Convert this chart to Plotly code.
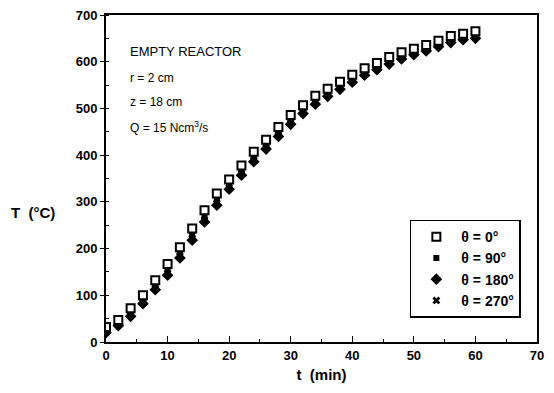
import plotly.graph_objects as go

t = [0, 2, 4, 6, 8, 10, 12, 14, 16, 18, 20, 22, 24, 26, 28, 30, 32, 34, 36, 38, 40,
     42, 44, 46, 48, 50, 52, 54, 56, 58, 60]
T0 = [32, 47, 72, 100, 132, 167, 203, 243, 282, 318, 348, 378, 407, 433, 460, 486, 507,
      527, 542, 557, 572, 586, 597, 610, 620, 628, 636, 645, 655, 660, 665]
T90 = [25, 40, 62, 90, 120, 153, 190, 228, 267, 303, 335, 365, 394, 421, 448, 474, 496,
       516, 532, 547, 562, 577, 589, 601, 611, 620, 628, 637, 646, 652, 656]
T180 = [20, 35, 55, 82, 112, 143, 180, 218, 257, 293, 327, 357, 386, 413, 440, 466, 489,
        509, 526, 541, 556, 571, 583, 595, 606, 615, 623, 632, 641, 647, 650]
T270 = [22, 37, 58, 85, 115, 147, 184, 222, 261, 297, 330, 360, 389, 416, 443, 469, 492,
        512, 529, 544, 559, 573, 585, 597, 608, 617, 625, 634, 643, 649, 653]
labels = ["\u03b8 = 0\u00b0", "\u03b8 = 90\u00b0", "\u03b8 = 180\u00b0", "\u03b8 = 270\u00b0"]

fig = go.Figure()
fig.add_trace(go.Scatter(x=t, y=T270, mode="markers", name=labels[3],
                         marker=dict(symbol="x", size=7, color="black")))
fig.add_trace(go.Scatter(x=t, y=T180, mode="markers", name=labels[2],
                         marker=dict(symbol="diamond", size=9, color="black")))
fig.add_trace(go.Scatter(x=t, y=T90, mode="markers", name=labels[1],
                         marker=dict(symbol="square", size=6, color="black")))
fig.add_trace(go.Scatter(x=t, y=T0, mode="markers", name=labels[0],
                         marker=dict(symbol="square", size=8, color="white",
                                     line=dict(color="black", width=2))))

font_main = "Arial, Liberation Sans, sans-serif"
fig.update_layout(
    width=554, height=393,
    margin=dict(l=106, r=17, t=8, b=51),
    paper_bgcolor="white", plot_bgcolor="white",
    font=dict(family=font_main, color="black", size=13),
    showlegend=True,
    legend=dict(x=0.705, y=0.374, xanchor="left", yanchor="top",
                bordercolor="black", borderwidth=1.5, bgcolor="white",
                traceorder="reversed", itemwidth=40,
                font=dict(size=14, family=font_main, weight="bold")),
    xaxis=dict(range=[0, 70], dtick=10, showline=True, linecolor="black", linewidth=2,
               mirror=True, ticks="inside", ticklen=6, tickcolor="black",
               showgrid=False, zeroline=False,
               tickfont=dict(size=13, weight="bold"),
               minor=dict(dtick=5, ticks="inside", ticklen=3, tickcolor="black"),
               title=dict(text="t  (min)", font=dict(size=15, weight="bold"), standoff=8)),
    yaxis=dict(range=[0, 700], dtick=100, showline=True, linecolor="black", linewidth=2,
               mirror=True, ticks="outside", ticklen=4, tickcolor="black",
               showgrid=False, zeroline=False,
               tickfont=dict(size=13, weight="bold"),
               minor=dict(dtick=50, ticks="inside", ticklen=3, tickcolor="black")),
)

fig.add_annotation(text="T  (\u00b0C)", xref="paper", yref="paper",
                   x=-0.225, y=(342 - 210) / 334, xanchor="left", yanchor="middle",
                   showarrow=False, font=dict(size=15, weight="bold"))

notes = ["EMPTY REACTOR", "r = 2 cm", "z = 18 cm", "Q = 15 Ncm<sup>3</sup>/s"]
ypix = [45, 72, 97, 122]
for txt, yp in zip(notes, ypix):
    fig.add_annotation(text=txt, xref="paper", yref="paper",
                       x=(128 - 106) / 431, y=(342 - yp) / 334,
                       xanchor="left", yanchor="middle", showarrow=False,
                       font=dict(size=13 if txt.startswith("EMPTY") else 12))

fig.write_html("out.html")
